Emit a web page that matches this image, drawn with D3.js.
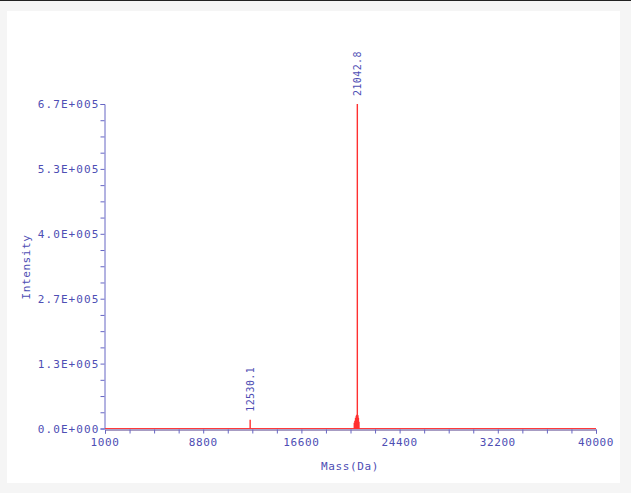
<!DOCTYPE html>
<html><head><meta charset="utf-8">
<script src="https://cdn.jsdelivr.net/npm/d3@7"></script>
<style>
html,body{margin:0;padding:0;background:#f5f5f5;}
svg{display:block;}
text{font-family:"DejaVu Sans Mono",monospace;}
</style></head>
<body>
<svg id="c" width="631" height="493"></svg>
<script>
// ---- data ----
const xTickValues = [1000, 8800, 16600, 24400, 32200, 40000];
const yTickValues = [0, 133200, 266400, 399600, 532800, 666000];
const yTickLabels = ["0.0E+000", "1.3E+005", "2.7E+005", "4.0E+005", "5.3E+005", "6.7E+005"];
const peakMass = [12530.1, 20800, 20850, 20900, 20960, 21000, 21042.8, 21090, 21130, 21170];
const peakIntensity = [18000, 12000, 16000, 22000, 26000, 28000, 666000, 27000, 22000, 14000];
const labelMass = [12530.1, 21042.8];
const labelIntensity = [18000, 666000];
const labelText = ["12530.1", "21042.8"];
const xLabel = "Mass(Da)";
const yLabel = "Intensity";

const svg = d3.select("#c");
const axisColor = "#6666c4";
const textColor = "#4e4eb4";

svg.append("rect").attr("x",0).attr("y",0).attr("width",631).attr("height",1).attr("fill","#222");
svg.append("rect").attr("x",7).attr("y",11).attr("width",613).attr("height",472).attr("fill","#fff");

const x = d3.scaleLinear().domain([1000, 40000]).range([105, 596]);
const y = d3.scaleLinear().domain([0, 666000]).range([428.5, 104]);

// minor ticks
const xMinor = d3.range(1000, 40001, 1950);
const yMinor = d3.range(0, 666001, 33300);

// axes
const xAxis = d3.axisBottom(x).tickValues(xMinor).tickSize(4).tickFormat(()=>"");
const gx = svg.append("g").attr("transform","translate(0,429.5)").call(xAxis);
gx.select(".domain").style("stroke", "#503a88").style("stroke-width","1");
gx.selectAll(".tick line").style("stroke", axisColor);
gx.selectAll(".mlab").data(xTickValues).join("text")
  .attr("x", d=>x(d)).attr("y", 16).attr("text-anchor","middle")
  .style("fill", textColor).attr("font-size", "11px").attr("letter-spacing","0.6px")
  .text(d=>d);

const yAxis = d3.axisLeft(y).tickValues(yMinor).tickSize(4).tickFormat(()=>"");
const gy = svg.append("g").attr("transform","translate(104.5,0)").call(yAxis);
gy.select(".domain").style("stroke", axisColor);
gy.selectAll(".tick line").style("stroke", axisColor);
gy.selectAll(".mlab").data(yTickValues).join("text")
  .attr("x", -5).attr("y", d=>y(d)+4).attr("text-anchor","end")
  .style("fill", textColor).attr("font-size", "11px").attr("letter-spacing","1.1px")
  .text((d,i)=>yTickLabels[i]);

const g = svg.append("g");
// baseline of spectrum
g.append("line").attr("x1", x(1000)).attr("x2", x(40000))
  .attr("y1", 428.5).attr("y2", 428.5)
  .style("stroke", "#ff3a3a").style("stroke-width", "1");

// sticks
g.selectAll("line.pk").data(peakMass).join("line").attr("class","pk")
  .attr("x1", (d)=>x(d)).attr("x2", (d)=>x(d))
  .attr("y1", y(0)).attr("y2", (d,i)=>y(peakIntensity[i]))
  .style("stroke", "#ff3030").style("stroke-width", "1.4");

// peak labels
svg.selectAll(".plab").data(labelMass).join("text")
  .attr("transform",(d,i)=>`translate(${x(d)+3.5},${y(labelIntensity[i])-8}) rotate(-90)`)
  .style("fill", textColor).attr("font-size","10px").attr("letter-spacing","0.4px")
  .text((d,i)=>labelText[i]);

// axis titles
svg.append("text").attr("x", 350).attr("y", 470).attr("text-anchor","middle")
  .style("fill", textColor).attr("font-size","11px").attr("letter-spacing","0.6px").text(xLabel);
svg.append("text").attr("transform","translate(30,267) rotate(-90)").attr("text-anchor","middle")
  .style("fill", textColor).attr("font-size","11px").attr("letter-spacing","0.6px").text(yLabel);
</script>
</body></html>
